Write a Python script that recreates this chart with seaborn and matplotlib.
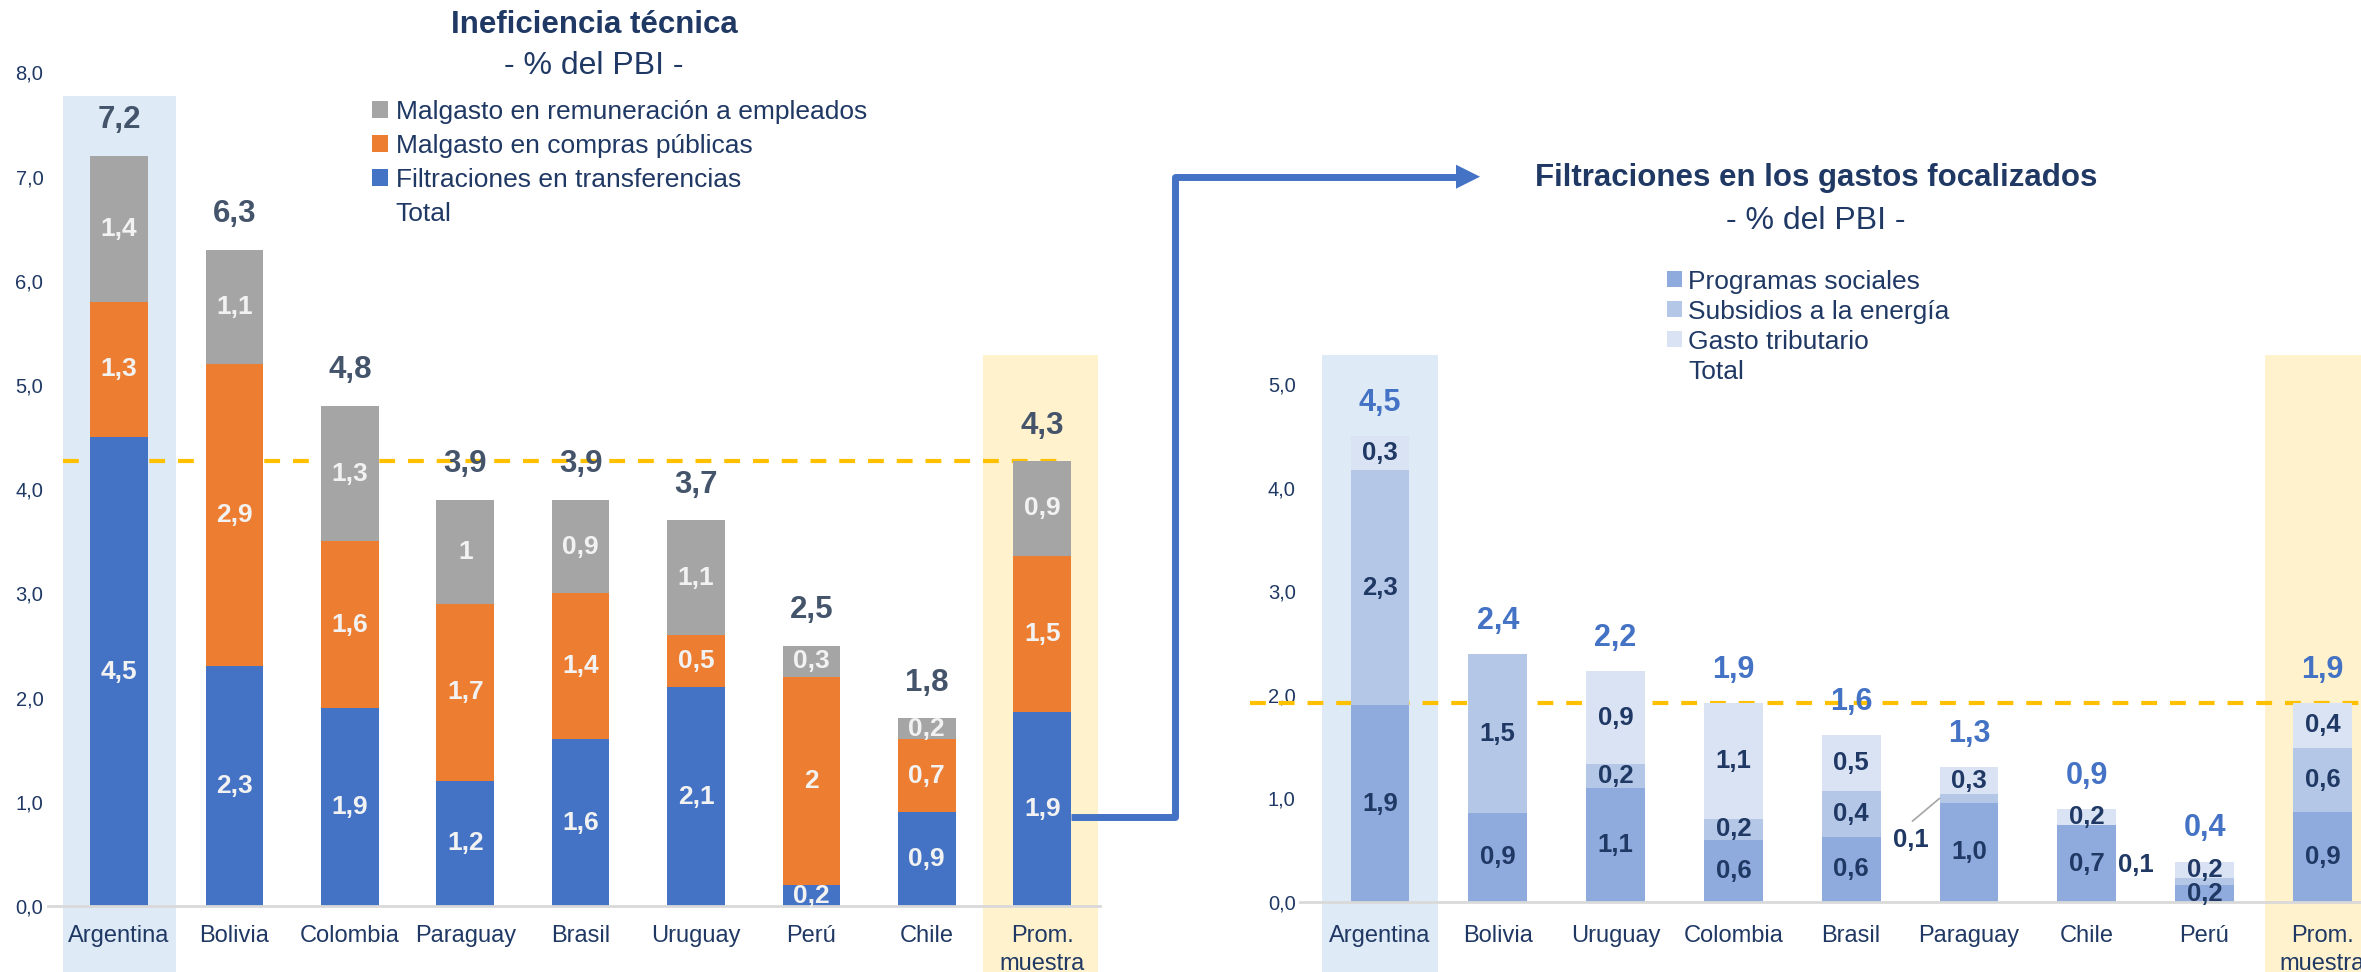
import numpy as np
import matplotlib
matplotlib.use("Agg")
import matplotlib.pyplot as plt
import seaborn as sns
from matplotlib.patches import Rectangle, Patch, Polygon
from matplotlib.lines import Line2D

# ---------------- data: left chart ----------------
left_title = "Ineficiencia técnica"
left_subtitle = "- % del PBI -"
left_categories = ["Argentina", "Bolivia", "Colombia", "Paraguay", "Brasil",
                   "Uruguay", "Perú", "Chile", "Prom.\nmuestra"]
filtraciones_transferencias = [4.5, 2.3, 1.9, 1.2, 1.6, 2.1, 0.2, 0.9, 1.86]
malgasto_compras = [1.3, 2.9, 1.6, 1.7, 1.4, 0.5, 2.0, 0.7, 1.50]
malgasto_remuneracion = [1.4, 1.1, 1.3, 1.0, 0.9, 1.1, 0.3, 0.2, 0.91]
left_series_names = ["Filtraciones en transferencias",
                     "Malgasto en compras públicas",
                     "Malgasto en remuneración a empleados"]
left_yticks = [0, 1, 2, 3, 4, 5, 6, 7, 8]

# ---------------- data: right chart ----------------
right_title = "Filtraciones en los gastos focalizados"
right_subtitle = "- % del PBI -"
right_categories = ["Argentina", "Bolivia", "Uruguay", "Colombia", "Brasil",
                    "Paraguay", "Chile", "Perú", "Prom.\nmuestra"]
programas_sociales = [1.90, 0.86, 1.10, 0.60, 0.63, 0.96, 0.74, 0.16, 0.87]
subsidios_energia = [2.27, 1.53, 0.23, 0.20, 0.44, 0.08, 0.00, 0.07, 0.62]
gasto_tributario = [0.33, 0.00, 0.90, 1.12, 0.54, 0.26, 0.16, 0.16, 0.43]
right_series_names = ["Programas sociales", "Subsidios a la energía",
                      "Gasto tributario"]
right_yticks = [0, 1, 2, 3, 4, 5]

# ---------------- style ----------------
sns.set_theme(style="white")
plt.rcParams["font.family"] = ["Liberation Sans", "DejaVu Sans"]

NAVY = "#1F3864"
SLATE = "#44546A"
BLUE = "#4472C4"
left_colors = ["#4472C4", "#ED7D31", "#A5A5A5"]
right_colors = ["#8FAADC", "#B4C7E7", "#DAE3F3"]
BAND_BLUE = "#DEEAF6"
BAND_YELLOW = "#FFF2CC"
DASH = "#FFC000"
AXIS_GRAY = "#D9D9D9"

W, H = 2361, 972
fig = plt.figure(figsize=(W / 100, H / 100), dpi=100)


def fmt_general(v):
    r = round(v, 1)
    if abs(r - round(r)) < 1e-9:
        return str(int(round(r)))
    return f"{r:.1f}".replace(".", ",")


def fmt_one(v):
    return f"{round(v, 1):.1f}".replace(".", ",")


def stacked(ax, cats, series, colors):
    cum = np.cumsum(np.array(series, dtype=float), axis=0)
    for k in reversed(range(len(series))):
        sns.barplot(x=cats, y=cum[k], order=cats, color=colors[k],
                    saturation=1, width=0.5, linewidth=0, ax=ax, zorder=2)
    return cum


def style_axes(ax, cats, yticks, ylim, xlim, xpad):
    ax.set_facecolor("none")
    ax.set_ylim(*ylim)
    ax.set_xlim(*xlim)
    ax.set_yticks(yticks)
    ax.set_yticklabels([f"{t:.1f}".replace(".", ",") for t in yticks],
                       fontsize=14.5, color=NAVY)
    ax.set_xticks(range(len(cats)))
    ax.set_xticklabels(cats, fontsize=17, color=NAVY, linespacing=1.33)
    ax.tick_params(axis="both", length=0)
    ax.tick_params(axis="y", pad=3)
    ax.tick_params(axis="x", pad=xpad)
    ax.set_xlabel("")
    ax.set_ylabel("")
    for s in ["left", "right", "top"]:
        ax.spines[s].set_visible(False)
    ax.spines["bottom"].set_color(AXIS_GRAY)
    ax.spines["bottom"].set_linewidth(2)
    ax.spines["bottom"].set_zorder(4)
    ax.grid(False)


# ---------------- left chart ----------------
l_left, l_right = 47.5, 1099.9
l_y0, l_unit = 906, 104.2
ax1 = fig.add_axes([l_left / W, (H - l_y0) / H, (l_right - l_left) / W,
                    8 * l_unit / H])
left_series = [filtraciones_transferencias, malgasto_compras,
               malgasto_remuneracion]
cum1 = stacked(ax1, left_categories, left_series, left_colors)
style_axes(ax1, left_categories, left_yticks, (0, 8), (-0.62, 8.5), 14)
n1 = len(left_categories)
tot1 = cum1[-1]

# highlight bands
ax1.add_patch(Rectangle((-0.49, -1.5), 0.98, 7.77 + 1.5, facecolor=BAND_BLUE,
                        edgecolor="none", zorder=0.5, clip_on=False))
ax1.add_patch(Rectangle((n1 - 1 - 0.51, -1.5), 0.99, 5.29 + 1.5,
                        facecolor=BAND_YELLOW, edgecolor="none", zorder=0.5,
                        clip_on=False))
# average line
ax1.plot([-0.49, n1 - 1 + 0.2], [tot1[-1]] * 2, color=DASH, lw=3,
         dashes=(3.8, 3.1), zorder=1, solid_capstyle="butt")

for i in range(n1):
    for k in range(len(left_series)):
        v = left_series[k][i]
        if v <= 0:
            continue
        ax1.text(i, cum1[k][i] - v / 2, fmt_general(v), ha="center",
                 va="center", fontsize=19, fontweight="bold", color="#F2F2F2",
                 zorder=5)
    ax1.text(i, tot1[i] + 0.34, fmt_general(tot1[i]), ha="center",
             va="center", fontsize=22.5, fontweight="bold", color=SLATE,
             zorder=5)

# ---------------- right chart ----------------
r_left, r_right = 1299.9, 2393.0
r_y0, r_unit = 902, 103.6
ax2 = fig.add_axes([r_left / W, (H - r_y0) / H, (r_right - r_left) / W,
                    5.3 * r_unit / H])
right_series = [programas_sociales, subsidios_energia, gasto_tributario]
cum2 = stacked(ax2, right_categories, right_series, right_colors)
style_axes(ax2, right_categories, right_yticks, (0, 5.3), (-0.68, 8.6), 16.5)
n2 = len(right_categories)
tot2 = cum2[-1]

ax2.add_patch(Rectangle((-0.49, -1.5), 0.98, 5.28 + 1.5, facecolor=BAND_BLUE,
                        edgecolor="none", zorder=0.5, clip_on=False))
ax2.add_patch(Rectangle((n2 - 1 - 0.49, -1.5), 0.98, 5.28 + 1.5,
                        facecolor=BAND_YELLOW, edgecolor="none", zorder=0.5,
                        clip_on=False))
ax2.plot([-1.1, n2 - 0.3], [tot2[-1]] * 2, color=DASH, lw=3,
         dashes=(3.8, 3.1), zorder=1, clip_on=False)

# labels placed outside their (thin) segment: (dx, dy, leader line)
outside = {("Paraguay", 1): (-0.49, -0.40, True),
           ("Perú", 1): (-0.58, 0.16, False)}

for i in range(n2):
    for k in range(len(right_series)):
        v = right_series[k][i]
        if v <= 0:
            continue
        ymid = cum2[k][i] - v / 2
        key = (right_categories[i], k)
        if key in outside:
            dx, dy, leader = outside[key]
            ax2.text(i + dx, ymid + dy, fmt_one(v), ha="center", va="center",
                     fontsize=18.5, fontweight="bold", color=NAVY, zorder=5)
            if leader:
                ax2.plot([i + dx + 0.01, i - 0.25], [ymid + dy + 0.18, ymid],
                         color="#A5A5A5", lw=1.2, zorder=5)
            continue
        ax2.text(i, ymid, fmt_one(v), ha="center", va="center",
                 fontsize=18.5, fontweight="bold", color=NAVY, zorder=5)
    ax2.text(i, tot2[i] + 0.32, fmt_one(tot2[i]), ha="center", va="center",
             fontsize=22, fontweight="bold", color=BLUE, zorder=5)

# ---------------- titles ----------------
fig.text(594 / W, 1 - 25 / H, left_title, ha="center", va="center",
         fontsize=22.5, fontweight="bold", color=NAVY)
fig.text(594 / W, 1 - 66 / H, left_subtitle, ha="center", va="center",
         fontsize=23, color=NAVY)
fig.text(1816 / W, 1 - 178 / H, right_title, ha="center", va="center",
         fontsize=22.5, fontweight="bold", color=NAVY)
fig.text(1816 / W, 1 - 221 / H, right_subtitle, ha="center", va="center",
         fontsize=23, color=NAVY)

# ---------------- legends ----------------
lh = [Patch(facecolor=c, edgecolor="none") for c in left_colors[::-1]]
lh.append(Patch(facecolor="none", edgecolor="none"))
fig.legend(lh, left_series_names[::-1] + ["Total"], loc="upper left",
           bbox_to_anchor=(372 / W, 1 - 100 / H), frameon=False, fontsize=19,
           handlelength=0.6, handleheight=0.6, handletextpad=0.3,
           labelspacing=0.38, borderpad=0, borderaxespad=0, labelcolor=NAVY)

rh = [Patch(facecolor=c, edgecolor="none") for c in right_colors]
rh.append(Patch(facecolor="none", edgecolor="none"))
fig.legend(rh, right_series_names + ["Total"], loc="upper left",
           bbox_to_anchor=(1667 / W, 1 - 269.5 / H), frameon=False,
           fontsize=19, handlelength=0.55, handleheight=0.55,
           handletextpad=0.25, labelspacing=0.23, borderpad=0,
           borderaxespad=0, labelcolor=NAVY)

# ---------------- connector arrow ----------------
fig.canvas.draw()
start_px = ax1.transData.transform((n1 - 1 + 0.25, left_series[0][-1] * 0.46))
x0, y0 = start_px
xc = 1175
ytop = H - 176.7
xtip = 1480
head_len, head_half = 24, 12
path_x = [x0, xc, xc, xtip - head_len + 2]
path_y = [y0, y0, ytop, ytop]
fig.add_artist(Line2D(np.array(path_x) / W, np.array(path_y) / H,
                      transform=fig.transFigure, color=BLUE, lw=5,
                      solid_joinstyle="round", solid_capstyle="butt"))
fig.add_artist(Polygon([[(xtip - head_len) / W, (ytop + head_half) / H],
                        [xtip / W, ytop / H],
                        [(xtip - head_len) / W, (ytop - head_half) / H]],
                       closed=True, transform=fig.transFigure, color=BLUE,
                       lw=0))

fig.savefig("out.png", dpi=100)
